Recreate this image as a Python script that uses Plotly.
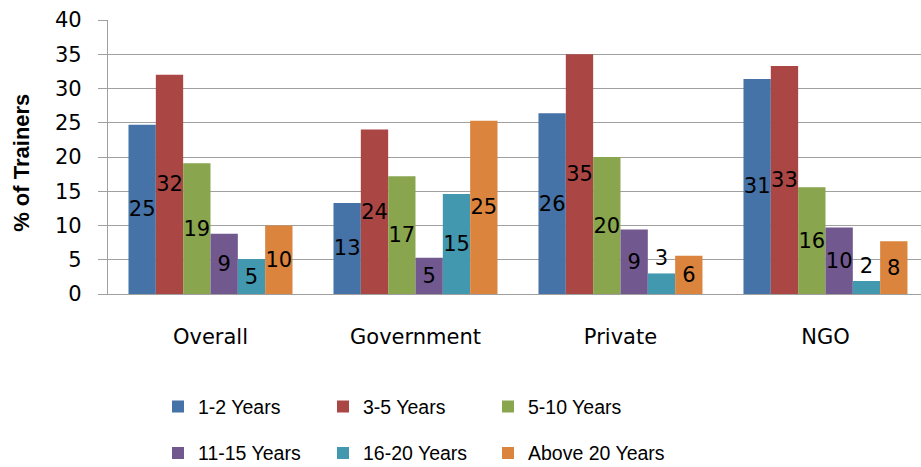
import plotly.graph_objects as go

categories = ["Overall", "Government", "Private", "NGO"]
series_names = ["1-2 Years", "3-5 Years", "5-10 Years", "11-15 Years", "16-20 Years", "Above 20 Years"]
yrs_1_2 = [24.7, 13.3, 26.4, 31.4]
yrs_3_5 = [32.0, 24.0, 35.0, 33.3]
yrs_5_10 = [19.1, 17.2, 20.0, 15.6]
yrs_11_15 = [8.8, 5.3, 9.4, 9.7]
yrs_16_20 = [5.1, 14.6, 3.0, 1.9]
yrs_above_20 = [10.0, 25.3, 5.6, 7.7]
y_ticks = [0, 5, 10, 15, 20, 25, 30, 35, 40]
y_title = "% of Trainers"

series_values = [yrs_1_2, yrs_3_5, yrs_5_10, yrs_11_15, yrs_16_20, yrs_above_20]
colors = ["#4572A7", "#AA4643", "#89A54E", "#71588F", "#4198AF", "#DB843D"]
text_positions = [
    "inside", "inside", "inside", "inside",
    ["inside", "inside", "outside", "outside"], "inside",
]
# legend columns: (1-2, 11-15), (3-5, 16-20), (5-10, Above 20)
legends = ["legend", "legend2", "legend3", "legend", "legend2", "legend3"]

label_font = dict(family="DejaVu Sans", size=21, color="#000000")

fig = go.Figure()
for i, (name, vals, col, tp, lg) in enumerate(zip(series_names, series_values, colors, text_positions, legends)):
    fig.add_trace(go.Bar(
        name=name, x=categories, y=vals,
        marker=dict(color=col, line=dict(width=0)),
        texttemplate="%{y:.0f}",
        textposition=tp,
        insidetextanchor="middle",
        constraintext="none",
        textangle=0,
        textfont=label_font,
        insidetextfont=label_font,
        outsidetextfont=label_font,
        legend=lg,
        legendgroup="g%d" % i,
        hoverinfo="x+y+name",
    ))

grid = "#A0A0A0"
legend_common = dict(
    orientation="v", xanchor="left", yanchor="middle",
    xref="container", yref="container",
    font=dict(family="Liberation Sans", size=19.5, color="#000000"),
    bgcolor="rgba(0,0,0,0)", traceorder="grouped", tracegroupgap=18,
    y=1 - 429.85 / 467,
)

fig.update_layout(
    width=921, height=467,
    margin=dict(l=108, r=0, t=20, b=173, autoexpand=False),
    paper_bgcolor="white", plot_bgcolor="white",
    barmode="group", bargap=0.2, bargroupgap=0,
    font=dict(family="DejaVu Sans", color="#000000"),
    xaxis=dict(
        range=[-0.5, 3.466], showgrid=False, showline=True, linecolor=grid, linewidth=1.3,
        ticks="", tickfont=dict(family="DejaVu Sans", size=21, color="#000000"),
        ticklabelstandoff=24, zeroline=False, automargin=False,
    ),
    yaxis=dict(
        range=[0, 40], tickvals=y_ticks, showgrid=True, gridcolor=grid, gridwidth=1.3,
        showline=True, linecolor=grid, linewidth=1.3, ticks="outside", ticklen=9,
        tickcolor=grid, tickwidth=1.3, zeroline=False, automargin=False,
        tickfont=dict(family="DejaVu Sans", size=21, color="#000000"),
        ticklabelstandoff=12,
    ),
    annotations=[dict(
        text=y_title, textangle=-90, showarrow=False,
        xref="paper", yref="paper",
        x=(22 - 108) / 813, y=(293.7 - 162.5) / 274,
        xanchor="center", yanchor="middle",
        font=dict(family="Liberation Sans", size=22, color="#000000", weight="bold"),
    )],
    legend=dict(x=158 / 921, **legend_common),
    legend2=dict(x=323 / 921, **legend_common),
    legend3=dict(x=488 / 921, **legend_common),
    showlegend=True,
)

fig.write_html(
    "out.html",
    config={"displayModeBar": False},
    post_script="document.body.style.margin='0';document.body.style.overflow='hidden';",
)
